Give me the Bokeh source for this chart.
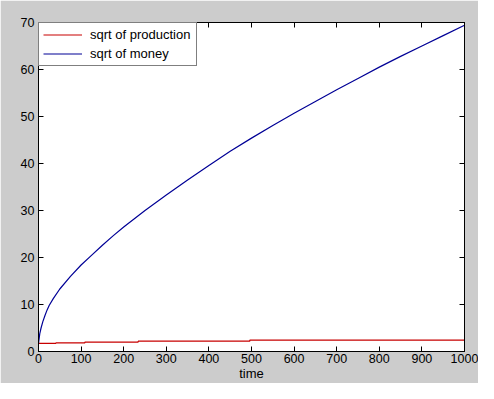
from bokeh.plotting import figure
from bokeh.models import LinearAxis, Range1d, Legend, LegendItem, FixedTicker, CustomLabelingPolicy
from bokeh.embed import file_html
from bokeh.resources import INLINE

# data
time_money = [0, 3, 6, 10, 15, 20, 25, 35, 50, 75, 100, 125, 150, 175, 200, 250, 300, 350, 400,
              450, 500, 550, 600, 650, 700, 750, 800, 850, 900, 950, 1000]
sqrt_money = [1.7, 3.8, 5.0, 6.3, 7.6, 8.8, 9.8, 11.3, 13.3, 16.0, 18.4, 20.5, 22.6, 24.6, 26.5,
              30.0, 33.3, 36.5, 39.6, 42.6, 45.4, 48.1, 50.7, 53.2, 55.7, 58.1, 60.5, 62.8,
              65.0, 67.2, 69.4]
time_production = [0, 41, 109, 234, 496, 1000]
sqrt_production = [1.73, 1.85, 2.0, 2.2, 2.4, 2.4]
x_ticks = list(range(0, 1001, 100))
y_ticks = list(range(0, 71, 10))

FONT = "Liberation Sans"
RED = "#c80000"
BLUE = "#000096"

p = figure(width=478, height=383,
           x_range=Range1d(0, 1000), y_range=Range1d(0, 70),
           output_backend="svg", toolbar_location=None,
           x_axis_label="time",
           min_border_left=38, min_border_top=22, min_border_right=14, min_border_bottom=20,
           background_fill_color="white", border_fill_color="#cccccc",
           outline_line_color="black", outline_line_width=1)
p.xgrid.grid_line_color = None
p.ygrid.grid_line_color = None

NO_LABELS = "const all = [...indices]; for (const i of all) { indices.unset(i) } return indices"


def style_axis(ax, ticks, show_labels=True):
    ax.ticker = FixedTicker(ticks=ticks)
    ax.major_tick_in = 5
    ax.major_tick_out = 0
    ax.minor_tick_line_color = None
    ax.axis_line_color = "black"
    ax.major_tick_line_color = "black"
    ax.major_label_text_font = FONT
    ax.major_label_text_color = "black"
    if show_labels:
        ax.major_label_text_font_size = "12.5px"
        ax.major_label_standoff = 4
    else:
        ax.major_label_text_font_size = "0px"
        ax.major_label_standoff = 0
        ax.major_label_policy = CustomLabelingPolicy(code=NO_LABELS)


style_axis(p.xaxis[0], x_ticks)
style_axis(p.yaxis[0], y_ticks)
p.xaxis[0].major_label_standoff = 2
p.xaxis[0].axis_label_text_font = FONT
p.xaxis[0].axis_label_text_font_size = "13px"
p.xaxis[0].axis_label_text_font_style = "normal"
p.xaxis[0].axis_label_text_color = "black"
p.xaxis[0].axis_label_standoff = 0

top_axis = LinearAxis()
style_axis(top_axis, x_ticks, show_labels=False)
p.add_layout(top_axis, "above")
right_axis = LinearAxis()
style_axis(right_axis, y_ticks, show_labels=False)
p.add_layout(right_axis, "right")

r_prod = p.step(time_production, sqrt_production, mode="after", line_color=RED, line_width=1.2)
r_money = p.line(time_money, sqrt_money, line_color=BLUE, line_width=1.2)

legend = Legend(items=[LegendItem(label="sqrt of production", renderers=[r_prod]),
                       LegendItem(label="sqrt of money", renderers=[r_money])],
                location="top_left", margin=0, padding=4, spacing=4,
                glyph_width=39, glyph_height=15, label_height=15, label_width=102,
                label_standoff=8, label_text_font=FONT, label_text_font_size="13px",
                label_text_color="black",
                border_line_color="black", border_line_width=1,
                background_fill_color="white", background_fill_alpha=1.0)
p.add_layout(legend)

open("out.html", "w").write(file_html(p, INLINE))
